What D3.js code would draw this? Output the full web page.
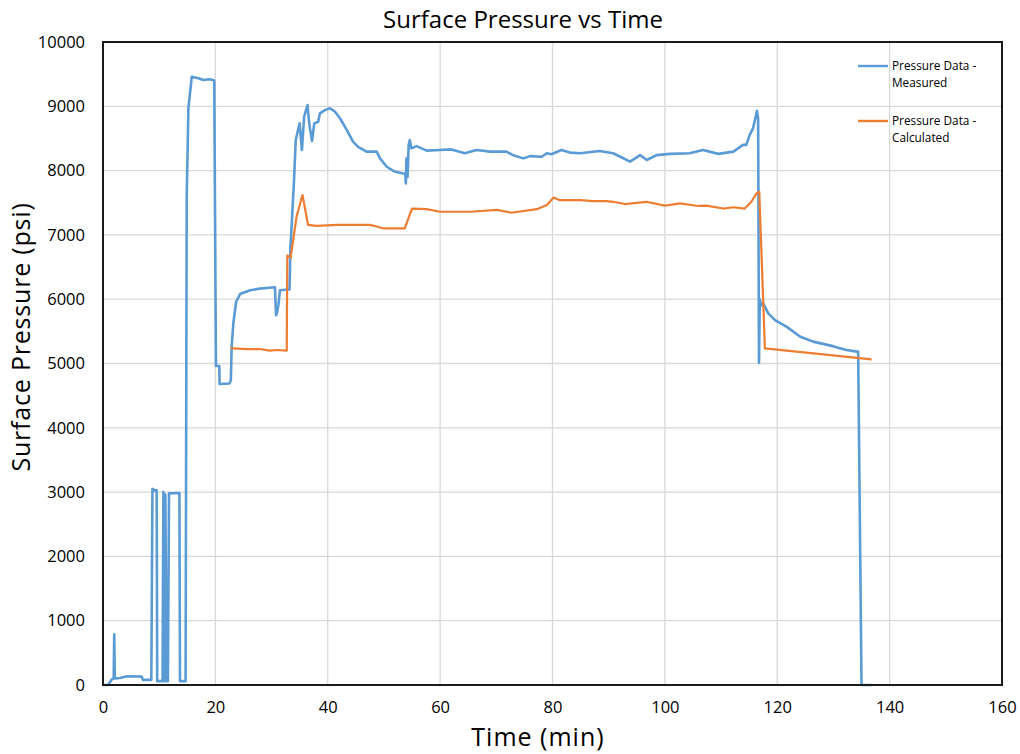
<!DOCTYPE html>
<html>
<head>
<meta charset="utf-8">
<script src="https://cdn.jsdelivr.net/npm/d3@7"></script>
<style>
  body { margin: 0; background: #fff; }
  svg text { font-family: "Open Sans", "Noto Sans", sans-serif; fill: #000; }
</style>
</head>
<body>
<svg id="chart" width="1020" height="754"></svg>
<script>
// Measured surface pressure (time in minutes, pressure in psi)
const measuredTime = [
  0, 0.9, 1.6, 1.9, 2.0, 2.1, 3.0, 3.9, 5.0, 6.9, 7.1, 8.6, 8.8, 9.3, 9.55, 9.65,
  10.6, 10.75, 10.9, 11.1, 11.3, 11.55, 11.75, 13.6, 13.7, 14.6, 14.7, 14.9, 15.2, 15.8,
  16.8, 17.9, 19.0, 19.8, 20.1, 20.7, 20.75, 22.5, 22.75, 22.9, 23.2, 23.7, 24.4, 26.2,
  27.9, 30.6, 30.8, 31.0, 31.2, 31.5, 33.0, 33.2, 33.35, 33.6, 34.0, 34.3, 35.0, 35.4,
  35.8, 36.4, 36.7, 37.2, 37.6, 38.3, 38.6, 39.5, 40.4, 41.3, 42.2, 43.4, 44.5, 45.4,
  46.9, 48.7, 49.3, 50.5, 51.9, 53.4, 53.8, 53.9, 54.0, 54.2, 54.4, 54.6, 54.9, 55.8,
  57.6, 60.0, 62.0, 64.4, 66.5, 68.9, 71.8, 73.0, 74.8, 76.0, 78.1, 79.0, 79.8, 81.6,
  83.1, 84.9, 88.4, 90.8, 93.8, 95.6, 96.8, 98.5, 100.9, 104.4, 106.8, 109.5, 112.2,
  113.9, 114.5, 115.1, 115.7, 116.4, 116.6, 116.75, 116.9, 117.1, 117.5, 118.4, 119.6,
  121.7, 124.1, 126.4, 129.9, 132.3, 134.2, 134.4, 135.0, 136.8
];
const measuredPsi = [
  0, 0, 90, 100, 790, 100, 110, 130, 135, 130, 80, 80, 3050, 3020, 3030, 60,
  60, 3000, 60, 2960, 60, 60, 2980, 2985, 60, 60, 60, 7600, 8970, 9460,
  9440, 9410, 9420, 9400, 4960, 4960, 4680, 4690, 4740, 5260, 5630, 5960, 6080, 6140,
  6165, 6185, 5750, 5800, 5900, 6140, 6150, 6150, 6800, 7185, 7850, 8475, 8735, 8320,
  8840, 9020, 8735, 8460, 8735, 8760, 8890, 8940, 8970, 8915, 8810, 8630, 8450, 8370,
  8295, 8295, 8190, 8060, 7985, 7955, 7950, 7800, 8190, 7900, 8400, 8475, 8345, 8380,
  8310, 8320, 8330, 8270, 8320, 8295, 8295, 8240, 8190, 8225, 8215, 8270, 8255, 8320,
  8280, 8270, 8305, 8270, 8140, 8240, 8165, 8240, 8260, 8270, 8320, 8260, 8295,
  8400, 8400, 8555, 8660, 8930, 8800, 5010, 6000, 5900, 5935, 5780, 5675,
  5570, 5415, 5340, 5270, 5210, 5185, 5185, 0, 0
];

// Calculated surface pressure
const calculatedTime = [
  22.7, 23.2, 25.6, 27.9, 29.7, 30.9, 32.7, 32.8, 33.4, 34.45, 35.5, 36.5, 38.0, 41.6,
  47.5, 48.7, 49.9, 51.7, 53.7, 55.0, 57.6, 60.0, 65.3, 70.1, 72.7, 77.2, 79.0, 80.2,
  81.3, 84.9, 87.2, 89.6, 90.8, 92.9, 96.7, 100.0, 102.7, 105.9, 107.4, 110.4, 112.2,
  114.2, 115.4, 116.3, 116.8, 117.8, 136.8
];
const calculatedPsi = [
  5235, 5235, 5225, 5225, 5200, 5210, 5200, 6680, 6650, 7285, 7620, 7155, 7140, 7155,
  7155, 7130, 7100, 7100, 7100, 7410, 7400, 7360, 7360, 7390, 7345, 7400, 7465, 7580,
  7540, 7540, 7525, 7525, 7515, 7480, 7515, 7455, 7490, 7450, 7455, 7410, 7430,
  7410, 7515, 7645, 7670, 5235, 5065
];

const xTicks = [0, 20, 40, 60, 80, 100, 120, 140, 160];
const yTicks = [0, 1000, 2000, 3000, 4000, 5000, 6000, 7000, 8000, 9000, 10000];

const seriesNames = ["Pressure Data - Measured", "Pressure Data - Calculated"];
const seriesColors = ["#5B9BD5", "#ED7D31"];

const svg = d3.select("#chart");
const margin = { left: 103, right: 18, top: 42, bottom: 69 };
const W = 1020, H = 754;

const x = d3.scaleLinear().domain([0, 160]).range([margin.left, W - margin.right]);
const y = d3.scaleLinear().domain([0, 10000]).range([H - margin.bottom, margin.top]);

// Gridlines
const grid = svg.append("g");
grid.selectAll("line.h").data(yTicks).join("line")
  .attr("x1", x(0)).attr("x2", x(160))
  .attr("y1", d => y(d)).attr("y2", d => y(d))
  .attr("stroke", "#d9d9d9").attr("stroke-width", 1.3);
grid.selectAll("line.v").data(xTicks).join("line")
  .attr("y1", y(0)).attr("y2", y(10000))
  .attr("x1", d => x(d)).attr("x2", d => x(d))
  .attr("stroke", "#d9d9d9").attr("stroke-width", 1.3);

// Axes (labels only; the frame is drawn separately)
const xAxis = svg.append("g")
  .attr("transform", `translate(0,${y(0)})`)
  .call(d3.axisBottom(x).tickValues(xTicks).tickSize(0).tickPadding(16));
const yAxis = svg.append("g")
  .attr("transform", `translate(${x(0)},0)`)
  .call(d3.axisLeft(y).tickValues(yTicks).tickSize(0).tickPadding(18).tickFormat(d3.format("d")));
[xAxis, yAxis].forEach(a => {
  a.select(".domain").remove();
  a.selectAll("text").attr("font-size", 16.5).attr("font-family", "'Open Sans', sans-serif").attr("fill", "#000");
});

// Series lines
const line = d3.line().x(d => x(d[0])).y(d => y(d[1]));
const measured = measuredTime.map((t, i) => [t, measuredPsi[i]]);
const calculated = calculatedTime.map((t, i) => [t, calculatedPsi[i]]);

svg.append("path").datum(measured)
  .attr("d", line).attr("fill", "none")
  .attr("stroke", seriesColors[0]).attr("stroke-width", 2.6)
  .attr("stroke-linejoin", "round");
svg.append("path").datum(calculated)
  .attr("d", line).attr("fill", "none")
  .attr("stroke", seriesColors[1]).attr("stroke-width", 2.2)
  .attr("stroke-linejoin", "round");

// Plot frame
svg.append("rect")
  .attr("x", x(0)).attr("y", y(10000))
  .attr("width", x(160) - x(0)).attr("height", y(0) - y(10000))
  .attr("fill", "none").attr("stroke", "#1a1a1a").attr("stroke-width", 2);

// Title and axis titles
svg.append("text").attr("x", 523).attr("y", 28)
  .attr("text-anchor", "middle").attr("font-size", 24)
  .text("Surface Pressure vs Time");
svg.append("text").attr("x", 538).attr("y", 746)
  .attr("text-anchor", "middle").attr("font-size", 25).attr("letter-spacing", 1)
  .text("Time (min)");
svg.append("text")
  .attr("transform", "translate(30,337) rotate(-90)")
  .attr("text-anchor", "middle").attr("font-size", 25).attr("letter-spacing", 0.8)
  .text("Surface Pressure (psi)");

// Legend
const legendRows = [
  { lines: ["Pressure Data -", "Measured"], color: seriesColors[0], y: 66 },
  { lines: ["Pressure Data -", "Calculated"], color: seriesColors[1], y: 121 }
];
const legend = svg.append("g");
legendRows.forEach(r => {
  legend.append("line")
    .attr("x1", 858).attr("x2", 888).attr("y1", r.y).attr("y2", r.y)
    .attr("stroke", r.color).attr("stroke-width", 2.4);
  r.lines.forEach((t, i) => {
    legend.append("text")
      .attr("x", 892).attr("y", r.y + i * 17).attr("dy", "0.35em")
      .attr("font-size", 11.8).text(t);
  });
});
</script>
</body>
</html>
